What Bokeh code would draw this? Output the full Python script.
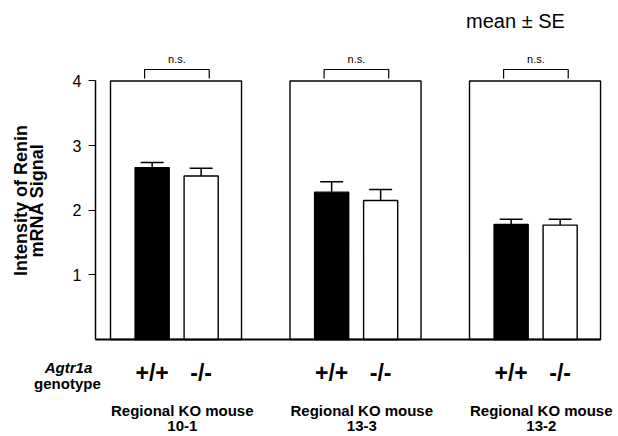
import math
from bokeh.plotting import figure
from bokeh.models import FixedTicker
from bokeh.core.properties import value
from bokeh.embed import file_html
from bokeh.resources import INLINE

# ---- data ----
group_ids = ["10-1", "13-3", "13-2"]
group_title = "Regional KO mouse"
genotypes = ["+/+", "-/-"]
wt_mean = [2.66, 2.28, 1.78]
wt_se = [0.08, 0.16, 0.08]
ko_mean = [2.53, 2.15, 1.77]
ko_se = [0.12, 0.17, 0.09]
sig_labels = ["n.s.", "n.s.", "n.s."]
y_ticks = [1, 2, 3, 4]
y_label_lines = ["Intensity of Renin", "mRNA Signal"]
gene_label = "Agtr1a"
gene_label2 = "genotype"
note = "mean \u00b1 SE"

# ---- layout (group units) ----
FONT = "Liberation Sans"
box_w = 0.73
wt_off = 0.232
ko_off = 0.505
bar_w = 0.19
cap_w = 0.128
y_top = y_ticks[-1]
axis_x = -0.0836

n = len(group_ids)
gx = list(range(n))

p = figure(width=618, height=436, x_range=(-0.6128, 2.8301), y_range=(-1.501, 5.2456),
           output_backend="svg", toolbar_location=None, x_axis_location=None,
           min_border=0, min_border_left=0, min_border_right=0,
           min_border_top=0, min_border_bottom=0)
p.outline_line_color = None
p.xgrid.visible = False
p.ygrid.visible = False
p.background_fill_color = "white"

ax = p.yaxis[0]
ax.fixed_location = axis_x
ax.ticker = FixedTicker(ticks=y_ticks)
ax.bounds = (0, y_top)
ax.major_tick_in = 0
ax.major_tick_out = 7
ax.minor_tick_line_color = None
ax.axis_line_width = 1.5
ax.major_tick_line_width = 1.2
ax.major_label_text_font = FONT
ax.major_label_text_font_size = "16px"
ax.major_label_text_color = "black"
ax.major_label_standoff = 7

# panel boxes
p.quad(left=[g for g in gx], right=[g + box_w for g in gx], bottom=0, top=y_top,
       fill_color=None, line_color="black", line_width=1.4)

# bars
wt_x = [g + wt_off for g in gx]
ko_x = [g + ko_off for g in gx]
p.vbar(x=wt_x, width=bar_w, bottom=0, top=wt_mean, fill_color="black",
       line_color="black", line_width=1.4)
p.vbar(x=ko_x, width=bar_w, bottom=0, top=ko_mean, fill_color="white",
       line_color="black", line_width=1.4)

# error bars (upper only)
for xs, m, s in ((wt_x, wt_mean, wt_se), (ko_x, ko_mean, ko_se)):
    up = [a + b for a, b in zip(m, s)]
    p.segment(x0=xs, y0=m, x1=xs, y1=up, line_color="black", line_width=1.5)
    p.segment(x0=[x - cap_w / 2 for x in xs], y0=up, x1=[x + cap_w / 2 for x in xs],
              y1=up, line_color="black", line_width=1.5)

# baseline
p.segment(x0=[axis_x], y0=[0], x1=[gx[-1] + box_w], y1=[0],
          line_color="black", line_width=2)

# significance brackets
br_l, br_r, br_lo, br_hi = 0.19, 0.55, 4.04, 4.178
p.multi_line(xs=[[g + br_l, g + br_l, g + br_r, g + br_r] for g in gx],
             ys=[[br_lo, br_hi, br_hi, br_lo] for g in gx],
             line_color="black", line_width=1.2)
p.text(x=[g + (br_l + br_r) / 2 for g in gx], y=[4.333] * n, text=sig_labels,
       text_font=value(FONT), text_font_size="11px", text_align="center",
       text_baseline="middle", text_color="black")

# note
p.text(x=[2.256], y=[4.936], text=[note], text_font=value(FONT), text_font_size="20px",
       text_align="center", text_baseline="middle", text_color="black")

# genotype labels under bars
p.text(x=wt_x, y=[-0.526] * n, text=[genotypes[0]] * n, text_font=value(FONT),
       text_font_size="23px", text_font_style="bold", text_align="center",
       text_baseline="middle", text_color="black")
p.text(x=ko_x, y=[-0.526] * n, text=[genotypes[1]] * n, text_font=value(FONT),
       text_font_size="23px", text_font_style="bold", text_align="center",
       text_baseline="middle", text_color="black")

# group labels
lab_off = 0.40
p.text(x=[g + lab_off for g in gx], y=[-1.098] * n, text=[group_title] * n,
       text_font=value(FONT), text_font_size="15px", text_font_style="bold",
       text_align="center", text_baseline="middle", text_color="black")
p.text(x=[g + lab_off for g in gx], y=[-1.346] * n, text=group_ids,
       text_font=value(FONT), text_font_size="15px", text_font_style="bold",
       text_align="center", text_baseline="middle", text_color="black")

# genotype row title
p.text(x=[-0.234], y=[-0.433], text=[gene_label], text_font=value(FONT),
       text_font_size="15px", text_font_style="bold italic", text_align="center",
       text_baseline="middle", text_color="black")
p.text(x=[-0.240], y=[-0.681], text=[gene_label2], text_font=value(FONT),
       text_font_size="15px", text_font_style="bold", text_align="center",
       text_baseline="middle", text_color="black")

# y title
p.text(x=[-0.501, -0.407], y=[2.151, 2.151], text=y_label_lines, angle=math.pi / 2,
       text_font=value(FONT), text_font_size="18px", text_font_style="bold",
       text_align="center", text_baseline="middle", text_color="black")

open("out.html", "w").write(file_html(p, INLINE))
